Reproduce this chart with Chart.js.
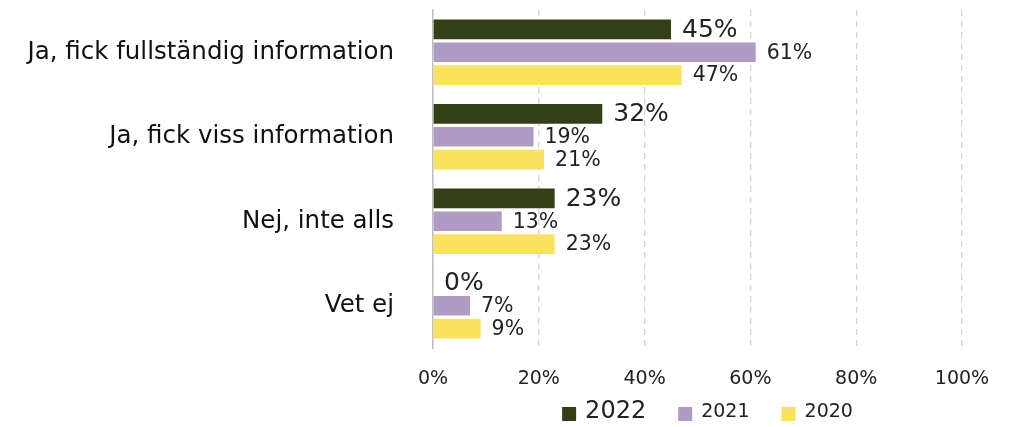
<!DOCTYPE html>
<html lang="sv">
<head>
<meta charset="utf-8">
<title>Information</title>
<script src="https://cdn.jsdelivr.net/npm/chart.js@4/dist/chart.umd.min.js"></script>
<style>
  html, body { margin: 0; padding: 0; background: #fff; }
  #wrap { width: 1015px; height: 427px; position: relative; overflow: hidden; }
</style>
</head>
<body>
<div id="wrap"><canvas id="chart" width="1015" height="427"></canvas></div>
<script>
const categories = ["Ja, fick fullständig information", "Ja, fick viss information", "Nej, inte alls", "Vet ej"];
const seriesNames = ["2022", "2021", "2020"];
const values2022 = [45, 32, 23, 0];
const values2021 = [61, 19, 13, 7];
const values2020 = [47, 21, 23, 9];
const xTicks = [0, 20, 40, 60, 80, 100];

const colors = ["#334016", "#b09bc4", "#fbe25e"];
const FONT = "DejaVu Sans";

// labels next to each bar; 2022 is drawn bigger
const barLabels = {
    id: "barLabels",
    afterDatasetsDraw(chart) {
        const ctx = chart.ctx;
        ctx.save();
        ctx.textAlign = "left";
        ctx.textBaseline = "middle";
        ctx.fillStyle = "#222";
        chart.data.datasets.forEach((ds, i) => {
            const size = i === 0 ? 25 : 20.5;
            ctx.font = size + "px '" + FONT + "'";
            chart.getDatasetMeta(i).data.forEach((bar, j) => {
                ctx.fillText(ds.data[j] + "%", bar.x + 11, bar.y + 1);
            });
        });
        ctx.restore();
    }
};

// legend at the bottom, 2022 bigger than the others
const bottomLegend = {
    id: "bottomLegend",
    afterDraw(chart) {
        const ctx = chart.ctx;
        const y = 412;
        const items = chart.data.datasets.map((ds, i) => {
            const size = i === 0 ? 24 : 19;
            ctx.font = size + "px '" + FONT + "'";
            return { text: ds.label, color: ds.backgroundColor, size, w: ctx.measureText(ds.label).width };
        });
        const box = 14, gapBox = 9, gapItem = 32;
        let total = 0;
        items.forEach((it, i) => { total += box + gapBox + it.w + (i < items.length - 1 ? gapItem : 0); });
        const area = chart.chartArea;
        let x = (area.left + area.right) / 2 + 10 - total / 2;
        ctx.save();
        ctx.textBaseline = "middle";
        ctx.textAlign = "left";
        items.forEach(it => {
            ctx.fillStyle = it.color;
            ctx.fillRect(x, y - box / 2 + 2, box, box);
            x += box + gapBox;
            ctx.fillStyle = "#222";
            ctx.font = it.size + "px '" + FONT + "'";
            ctx.fillText(it.text, x, y);
            x += it.w + gapItem;
        });
        ctx.restore();
    }
};

new Chart(document.getElementById("chart"), {
    type: "bar",
    data: {
        labels: categories,
        datasets: [
            { label: seriesNames[0], data: values2022, backgroundColor: colors[0] },
            { label: seriesNames[1], data: values2021, backgroundColor: colors[1] },
            { label: seriesNames[2], data: values2020, backgroundColor: colors[2] }
        ]
    },
    options: {
        indexAxis: "y",
        responsive: false,
        animation: false,
        devicePixelRatio: 1,
        categoryPercentage: 0.81,
        barPercentage: 0.86,
        layout: { padding: { top: 10, right: 53, bottom: 0, left: 0 } },
        plugins: {
            legend: { display: false },
            tooltip: { enabled: false }
        },
        scales: {
            x: {
                min: 0,
                max: 100,
                afterBuildTicks: scale => { scale.ticks = xTicks.map(v => ({ value: v })); },
                afterFit: scale => { scale.height = 79; },
                ticks: {
                    padding: 20,
                    color: "#222",
                    font: { family: FONT, size: 19 },
                    callback: v => v + "%"
                },
                grid: { color: "#d3d3d3", lineWidth: 1.3, drawTicks: false },
                border: { display: false, dash: [6, 5] }
            },
            y: {
                afterFit: scale => {
                    scale.width = 433;
                    scale.paddingTop = 0;
                    scale.paddingBottom = 0;
                },
                ticks: {
                    padding: 39,
                    color: "#111",
                    font: { family: FONT, size: 24.5 }
                },
                grid: { display: false, drawTicks: false },
                border: { color: "#bfbfbf", width: 1.5 }
            }
        }
    },
    plugins: [barLabels, bottomLegend]
});
</script>
</body>
</html>
